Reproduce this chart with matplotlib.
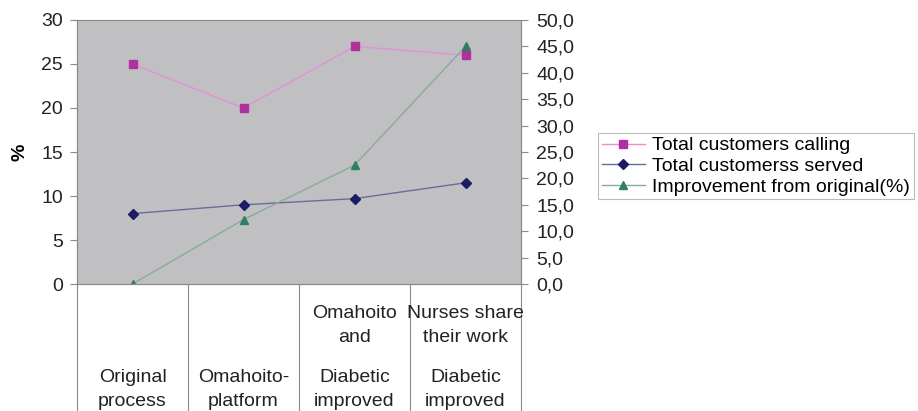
import matplotlib.pyplot as plt

stages_top = ['', '', 'Omahoito\nand', 'Nurses share\ntheir work']
stages_bottom = ['Original\nprocess', 'Omahoito-\nplatform', 'Diabetic\nimproved', 'Diabetic\nimproved']
calling = [25, 20, 27, 26]
served = [8, 9, 9.7, 11.5]
improvement = [0, 12.2, 22.5, 45]
left_ticks = [0, 5, 10, 15, 20, 25, 30]
right_ticks = [0, 5, 10, 15, 20, 25, 30, 35, 40, 45, 50]

plt.rcParams['font.family'] = ['Liberation Sans', 'DejaVu Sans']

fig = plt.figure(figsize=(9.18, 4.11), dpi=100)
ax1 = fig.add_axes([77 / 918, 1 - 284 / 411, 444 / 918, 264 / 411])
ax1.set_facecolor('#c0c0c2')

x = list(range(len(calling)))
ax1.plot(x, calling, color='#e58fd8', lw=1, marker='s', ms=6,
         mfc='#b0309f', mec='#b0309f', label='Total customers calling')
ax1.plot(x, served, color='#6a6a9e', lw=1, marker='D', ms=5,
         mfc='#1c1c66', mec='#1c1c66', label='Total customerss served')

# improvement uses the secondary axis on the right
ax2 = ax1.twinx()
ax2.plot(x, improvement, color='#86ab9e', lw=1, marker='^', ms=6,
         mfc='#2f7f63', mec='#2f7f63', label='Improvement from original(%)')

ax1.set_xlim(-0.5, len(x) - 0.5)
ax1.set_ylim(0, 30)
ax2.set_ylim(0, 50)
ax1.set_yticks(left_ticks)
ax1.set_yticklabels([str(t) for t in left_ticks], fontsize=14, color='#222222')
ax2.set_yticks(right_ticks)
ax2.set_yticklabels([f'{t:.1f}'.replace('.', ',') for t in right_ticks],
                    fontsize=14, color='#222222')
ax1.set_ylabel('%', fontsize=14, fontweight='bold', labelpad=9)

for a in (ax1, ax2):
    for s in a.spines.values():
        s.set_color('#8a8a8a')
        s.set_linewidth(0.8)
ax1.spines['top'].set_color('#d8d8d8')
ax1.tick_params(axis='y', length=5, color='#8a8a8a', pad=5)
ax2.tick_params(axis='y', length=5, color='#8a8a8a', pad=6)

# category separators run down through the label area
ax1.set_xticks([])
for b in [i - 0.5 for i in range(len(x) + 1)]:
    ax1.plot([b, b], [0, -14.5], color='#8a8a8a', lw=0.8, clip_on=False)

for i in x:
    ax1.text(i, -14.3, stages_bottom[i], ha='center', va='bottom',
             fontsize=14, color='#222222', linespacing=1.55)
    if stages_top[i]:
        ax1.text(i, -7.1, stages_top[i], ha='center', va='bottom',
                 fontsize=14, color='#222222', linespacing=1.55)

h1, l1 = ax1.get_legend_handles_labels()
h2, l2 = ax2.get_legend_handles_labels()
leg = fig.legend(h1 + h2, l1 + l2, loc='upper left',
                 bbox_to_anchor=(598 / 918, 1 - 133 / 411), fontsize=14,
                 frameon=True, fancybox=False, handlelength=2.2,
                 borderpad=0.2, labelspacing=0.15, handletextpad=0.4,
                 borderaxespad=0)
leg.get_frame().set_edgecolor('#aaaaaa')
leg.get_frame().set_linewidth(0.8)

fig.savefig('out.png', dpi=100)
